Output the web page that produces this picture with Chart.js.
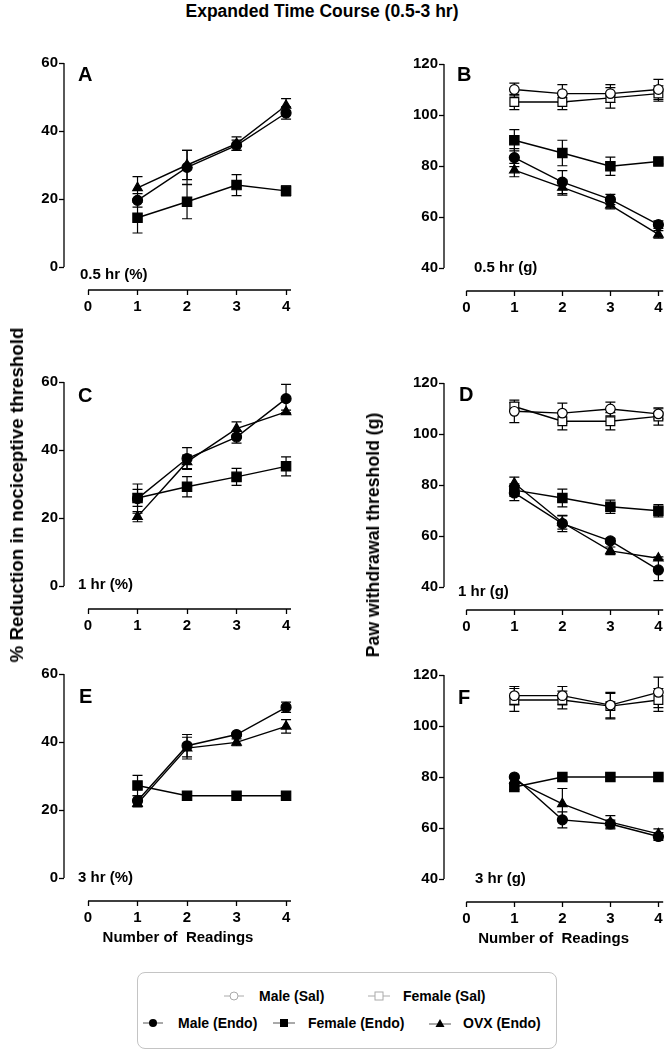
<!DOCTYPE html>
<html>
<head>
<meta charset="utf-8">
<script src="https://cdn.jsdelivr.net/npm/chart.js@4.4.0/dist/chart.umd.min.js"></script>
<style>
body { margin: 0; background: #fff; }
#page { position: relative; width: 671px; height: 1050px; overflow: hidden; background: #fff;
  font-family: "Liberation Sans", Arial, sans-serif; font-weight: bold; color: #000; }
canvas { position: absolute; }
.t { position: absolute; white-space: nowrap; }
.letter { font-size: 20px; line-height: 20px; }
.tag { font-size: 15px; line-height: 15px; }
.rot { position: absolute; white-space: nowrap; transform: translate(-50%, -50%) rotate(-90deg); }
#legend { position: absolute; left: 137px; top: 972px; width: 418px; height: 75px;
  border: 1px solid #c4c4c4; border-radius: 8px; }
.lg { position: absolute; font-size: 14px; line-height: 14px; white-space: nowrap; }
svg { position: absolute; }
</style>
</head>
<body>
<div id="page">
  <div class="t" style="left:322px;top:2px;transform:translateX(-50%);font-size:17.5px;line-height:18px;">Expanded Time Course (0.5-3 hr)</div>

  <canvas id="pA" width="304" height="269" style="left:0;top:51px"></canvas>
  <canvas id="pB" width="287" height="269" style="left:384px;top:52px"></canvas>
  <canvas id="pC" width="304" height="269" style="left:0;top:370px"></canvas>
  <canvas id="pD" width="287" height="269" style="left:384px;top:371px"></canvas>
  <canvas id="pE" width="304" height="289" style="left:0;top:662px"></canvas>
  <canvas id="pF" width="287" height="289" style="left:384px;top:663px"></canvas>

  <div class="t letter" style="left:78px;top:64px">A</div>
  <div class="t letter" style="left:457px;top:64px">B</div>
  <div class="t letter" style="left:78px;top:385px">C</div>
  <div class="t letter" style="left:459px;top:384px">D</div>
  <div class="t letter" style="left:79px;top:686px">E</div>
  <div class="t letter" style="left:458px;top:687px">F</div>

  <div class="t tag" style="left:80px;top:266px">0.5 hr (%)</div>
  <div class="t tag" style="left:474px;top:259px">0.5 hr (g)</div>
  <div class="t tag" style="left:78px;top:576px">1 hr (%)</div>
  <div class="t tag" style="left:458px;top:583px">1 hr (g)</div>
  <div class="t tag" style="left:78px;top:869px">3 hr (%)</div>
  <div class="t tag" style="left:475px;top:870px">3 hr (g)</div>

  <div class="rot" style="left:17px;top:495px;font-size:18.8px;line-height:20px;">% Reduction in nociceptive threshold</div>
  <div class="rot" style="left:373px;top:535px;font-size:17.7px;line-height:18px;">Paw withdrawal threshold (g)</div>

  <div id="legend"></div>
  <svg style="left:224px;top:990px" width="20" height="12"><line x1="0" y1="6" x2="20" y2="6" stroke="#aaa" stroke-width="1"/><circle cx="10" cy="6" r="4" fill="#fff" stroke="#aaa" stroke-width="1"/></svg>
  <div class="lg" style="left:259px;top:989px">Male (Sal)</div>
  <svg style="left:368px;top:990px" width="22" height="12"><line x1="0" y1="6" x2="22" y2="6" stroke="#aaa" stroke-width="1"/><rect x="7" y="2" width="8" height="8" fill="#fff" stroke="#aaa" stroke-width="1"/></svg>
  <div class="lg" style="left:403px;top:989px">Female (Sal)</div>
  <svg style="left:143px;top:1017px" width="20" height="12"><line x1="0" y1="6" x2="20" y2="6" stroke="#555" stroke-width="1"/><circle cx="10" cy="6" r="4" fill="#000"/></svg>
  <div class="lg" style="left:178px;top:1016px">Male (Endo)</div>
  <svg style="left:273px;top:1017px" width="22" height="12"><line x1="0" y1="6" x2="22" y2="6" stroke="#555" stroke-width="1"/><rect x="7" y="2" width="8" height="8" fill="#000"/></svg>
  <div class="lg" style="left:308px;top:1016px">Female (Endo)</div>
  <svg style="left:429px;top:1017px" width="22" height="12"><line x1="0" y1="7" x2="22" y2="7" stroke="#555" stroke-width="1"/><polygon points="11,2 15.5,10 6.5,10" fill="#000"/></svg>
  <div class="lg" style="left:463px;top:1016px">OVX (Endo)</div>
</div>

<script>
// x values and tick labels
const readings = [1, 2, 3, 4];
const xTicks = [0, 1, 2, 3, 4];
const pctTicks = [0, 20, 40, 60];
const gramTicks = [40, 60, 80, 100, 120];

// A: 0.5 hr (%)
const aMaleEndo = [19.6, 29.3, 35.8, 45.3];
const aMaleEndoErr = [2, 5, 1.5, 1.8];
const aFemaleEndo = [14.5, 19.2, 24.1, 22.4];
const aFemaleEndoErr = [4.5, 5, 3.1, 1.5];
const aOvxEndo = [23.3, 30, 36.3, 47.5];
const aOvxEndoErr = [3.3, 4.3, 2, 2];

// B: 0.5 hr (g)
const bMaleSal = [110, 108.4, 108.4, 110];
const bMaleSalErr = [2.5, 3.5, 3.5, 4];
const bFemaleSal = [105.1, 105.1, 106.7, 108.4];
const bFemaleSalErr = [3, 3, 4, 3];
const bMaleEndo = [83.3, 73.7, 66.9, 57];
const bMaleEndoErr = [3.5, 4.5, 2, 1.5];
const bFemaleEndo = [90.1, 85.1, 79.9, 81.8];
const bFemaleEndoErr = [4.2, 5, 3.6, 1];
const bOvxEndo = [78.4, 71.6, 64.7, 53.2];
const bOvxEndoErr = [2.6, 3, 1.5, 1.5];

// C: 1 hr (%)
const cMaleEndo = [25.7, 37.5, 43.8, 55.1];
const cMaleEndoErr = [4.3, 3.2, 1.8, 4.2];
const cFemaleEndo = [25.9, 29.2, 32.1, 35.2];
const cFemaleEndoErr = [2.5, 3, 2.5, 2.8];
const cOvxEndo = [20.4, 36.5, 46.3, 51.2];
const cOvxEndoErr = [1.5, 2, 2, 0.5];

// D: 1 hr (g)
const dMaleSal = [108.9, 108.2, 109.8, 107.9];
const dMaleSalErr = [4.4, 3.9, 2.7, 2];
const dFemaleSal = [110.8, 105, 105, 106.9];
const dFemaleSalErr = [1.5, 3.4, 3.4, 3.4];
const dMaleEndo = [76.9, 64.9, 58.1, 46.7];
const dMaleEndoErr = [3, 3.2, 1, 4.2];
const dFemaleEndo = [78, 74.9, 71.5, 69.9];
const dFemaleEndoErr = [2.5, 3.5, 2.6, 2.4];
const dOvxEndo = [80.7, 65.3, 54.2, 51.3];
const dOvxEndoErr = [2.4, 2.6, 1.5, 0.5];

// E: 3 hr (%)
const eMaleEndo = [22.7, 38.9, 42.2, 50.2];
const eMaleEndoErr = [1.5, 3.3, 0.5, 1.5];
const eFemaleEndo = [27.2, 24.2, 24.2, 24.2];
const eFemaleEndoErr = [3, 0, 0, 0];
const eOvxEndo = [21.9, 38.2, 39.9, 44.6];
const eOvxEndoErr = [1, 3.2, 1, 2];

// F: 3 hr (g)
const fMaleSal = [111.9, 111.9, 108.2, 113.2];
const fMaleSalErr = [3.6, 3.6, 5, 6];
const fFemaleSal = [110.2, 110.2, 107.8, 110.2];
const fFemaleSalErr = [4.5, 3.5, 5, 4.5];
const fMaleEndo = [80, 63.2, 61.6, 56.7];
const fMaleEndoErr = [0.5, 3.1, 1.5, 1.5];
const fFemaleEndo = [76.1, 80, 80, 80];
const fFemaleEndoErr = [1, 0, 0, 0];
const fOvxEndo = [78.7, 69.5, 62.3, 57.7];
const fOvxEndoErr = [1, 6, 2.6, 2];

const FONT = '"Liberation Sans", Arial, sans-serif';

// marker looks
const maleSalStyle = { pointStyle: 'circle', pointRadius: 4.8, pointBackgroundColor: '#fff' };
const femaleSalStyle = { pointStyle: 'rect', pointRadius: 6.2, pointBackgroundColor: '#fff' };
const maleEndoStyle = { pointStyle: 'circle', pointRadius: 5, pointBackgroundColor: '#000' };
const femaleEndoStyle = { pointStyle: 'rect', pointRadius: 6.6, pointBackgroundColor: '#000' };
const ovxEndoStyle = { pointStyle: 'triangle', pointRadius: 5.5, pointBackgroundColor: '#000' };

function series(values, errors, style) {
  return Object.assign({
    data: values.map((v, i) => ({ x: readings[i], y: v })),
    errors: errors,
    borderColor: '#000',
    borderWidth: 1.4,
    pointBorderColor: '#000',
    pointBorderWidth: 1.2,
    fill: false,
    tension: 0,
    clip: false
  }, style);
}

// SEM bars, drawn under the markers
const errorBars = {
  id: 'errorBars',
  beforeDatasetsDraw(chart) {
    const { ctx, scales: { x, y } } = chart;
    ctx.save();
    ctx.strokeStyle = '#000';
    ctx.lineWidth = 1.2;
    chart.data.datasets.forEach(ds => {
      ds.data.forEach((p, i) => {
        const e = ds.errors[i];
        if (!e) return;
        const px = x.getPixelForValue(p.x);
        const top = y.getPixelForValue(p.y + e);
        const bot = y.getPixelForValue(p.y - e);
        ctx.beginPath();
        ctx.moveTo(px, top); ctx.lineTo(px, bot);
        ctx.moveTo(px - 5, top); ctx.lineTo(px + 5, top);
        ctx.moveTo(px - 5, bot); ctx.lineTo(px + 5, bot);
        ctx.stroke();
      });
    });
    ctx.restore();
  }
};

// prism-like detached axes
const gpAxes = {
  id: 'gpAxes',
  afterDraw(chart, args, opts) {
    const { ctx, chartArea, scales: { x, y } } = chart;
    ctx.save();
    ctx.strokeStyle = '#000';
    ctx.lineWidth = 1.3;
    ctx.beginPath();
    ctx.moveTo(chartArea.left, y.getPixelForValue(opts.yFrom));
    ctx.lineTo(chartArea.left, y.getPixelForValue(opts.yTo));
    ctx.moveTo(x.getPixelForValue(0), chartArea.bottom);
    ctx.lineTo(x.getPixelForValue(opts.xTo), chartArea.bottom);
    ctx.stroke();
    ctx.restore();
  }
};

function makePanel(id, datasets, yTicks, yMin, right, xTitle) {
  const left = !right;
  const yw = left ? 64 : 60;
  const xh = xTitle ? 50 : 30;
  const tickFont = { family: FONT, size: 15, weight: 'bold' };
  new Chart(document.getElementById(id), {
    type: 'line',
    data: { datasets: datasets },
    options: {
      responsive: false,
      animation: false,
      layout: { padding: { top: 12, right: left ? 12 : 1, left: 0, bottom: 0 } },
      plugins: {
        legend: { display: false },
        tooltip: { enabled: false },
        gpAxes: { yFrom: yTicks[0], yTo: yTicks[yTicks.length - 1], xTo: 4.1 }
      },
      scales: {
        x: {
          type: 'linear',
          min: left ? -0.485 : -0.465,
          max: left ? 4.12 : 4.1,
          afterBuildTicks: s => { s.ticks = xTicks.map(v => ({ value: v })); },
          afterFit: s => { s.height = xh; },
          border: { display: false },
          grid: { drawOnChartArea: false, drawTicks: true, tickLength: 5, tickColor: '#000', tickWidth: 1.3 },
          ticks: { color: '#000', font: tickFont, padding: 3, maxRotation: 0 },
          title: {
            display: !!xTitle, text: xTitle || '', color: '#000',
            font: { family: FONT, size: 15, weight: 'bold' }, padding: { top: 2, bottom: 4 }
          }
        },
        y: {
          min: yMin,
          max: yTicks[yTicks.length - 1],
          afterBuildTicks: s => { s.ticks = yTicks.map(v => ({ value: v })); },
          afterFit: s => { s.width = yw; },
          border: { display: false },
          grid: { drawOnChartArea: false, drawTicks: true, tickLength: 5, tickColor: '#000', tickWidth: 1.3 },
          ticks: { color: '#000', font: tickFont, padding: 1 }
        }
      }
    },
    plugins: [errorBars, gpAxes]
  });
}

makePanel('pA', [
  series(aFemaleEndo, aFemaleEndoErr, femaleEndoStyle),
  series(aMaleEndo, aMaleEndoErr, maleEndoStyle),
  series(aOvxEndo, aOvxEndoErr, ovxEndoStyle)
], pctTicks, -6.76, false);

makePanel('pB', [
  series(bMaleSal, bMaleSalErr, maleSalStyle),
  series(bFemaleSal, bFemaleSalErr, femaleSalStyle),
  series(bFemaleEndo, bFemaleEndoErr, femaleEndoStyle),
  series(bMaleEndo, bMaleEndoErr, maleEndoStyle),
  series(bOvxEndo, bOvxEndoErr, ovxEndoStyle)
], gramTicks, 31.0, true);

makePanel('pC', [
  series(cFemaleEndo, cFemaleEndoErr, femaleEndoStyle),
  series(cMaleEndo, cMaleEndoErr, maleEndoStyle),
  series(cOvxEndo, cOvxEndoErr, ovxEndoStyle)
], pctTicks, -6.76, false);

makePanel('pD', [
  series(dMaleSal, dMaleSalErr, maleSalStyle),
  series(dFemaleSal, dFemaleSalErr, femaleSalStyle),
  series(dFemaleEndo, dFemaleEndoErr, femaleEndoStyle),
  series(dMaleEndo, dMaleEndoErr, maleEndoStyle),
  series(dOvxEndo, dOvxEndoErr, ovxEndoStyle)
], gramTicks, 31.0, true);

makePanel('pE', [
  series(eFemaleEndo, eFemaleEndoErr, femaleEndoStyle),
  series(eMaleEndo, eMaleEndoErr, maleEndoStyle),
  series(eOvxEndo, eOvxEndoErr, ovxEndoStyle)
], pctTicks, -6.76, false, 'Number of  Readings');

makePanel('pF', [
  series(fMaleSal, fMaleSalErr, maleSalStyle),
  series(fFemaleSal, fFemaleSalErr, femaleSalStyle),
  series(fFemaleEndo, fFemaleEndoErr, femaleEndoStyle),
  series(fMaleEndo, fMaleEndoErr, maleEndoStyle),
  series(fOvxEndo, fOvxEndoErr, ovxEndoStyle)
], gramTicks, 31.0, true, 'Number of  Readings');
</script>
</body>
</html>
